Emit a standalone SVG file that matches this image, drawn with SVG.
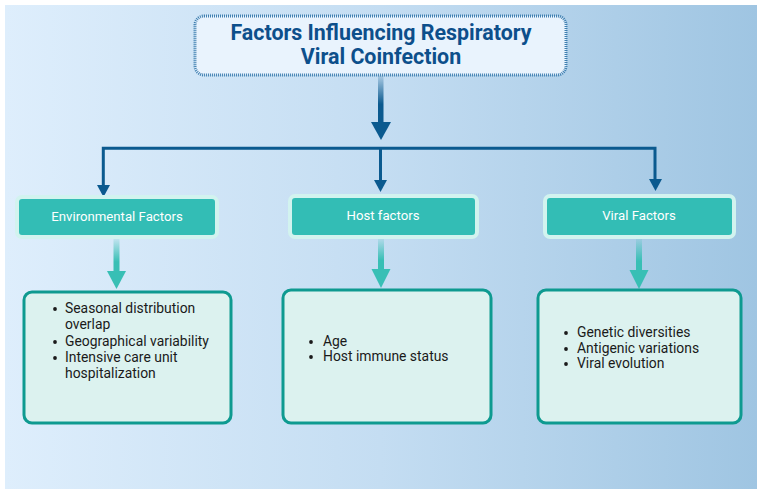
<svg xmlns="http://www.w3.org/2000/svg" width="761" height="495" viewBox="0 0 761 495">
<defs>
<linearGradient id="bg" x1="0" y1="0" x2="1" y2="0">
<stop offset="0" stop-color="#deeefc"/>
<stop offset="0.5" stop-color="#c4ddf2"/>
<stop offset="1" stop-color="#9fc5e2"/>
</linearGradient>
<linearGradient id="shaftBlue" x1="0" y1="0" x2="0" y2="1">
<stop offset="0" stop-color="#0b5a8f" stop-opacity="0.15"/>
<stop offset="0.6" stop-color="#0b5a8f" stop-opacity="1"/>
</linearGradient>
<linearGradient id="shaftTeal" x1="0" y1="0" x2="0" y2="1">
<stop offset="0" stop-color="#38bfb5" stop-opacity="0.1"/>
<stop offset="0.7" stop-color="#38bfb5" stop-opacity="1"/>
</linearGradient>
</defs>
<style>
.head{fill:#0d4f8b;font-family:Roboto,"Liberation Sans",sans-serif;font-weight:bold;font-size:21.4px;text-anchor:middle}
.cat rect{fill:#33bdb5;stroke:#d2f3ef;stroke-width:4}
.cat text{fill:#ffffff;font-family:Roboto,"Liberation Sans",sans-serif;font-size:13.2px;text-anchor:middle}
.box rect{fill:#dcf2ef;stroke:#0e9a90;stroke-width:3}
.box text{fill:#1a1a1a;font-family:Roboto,"Liberation Sans",sans-serif;font-size:13.9px}
.box circle{fill:#1a1a1a}
.conn{fill:none;stroke:#0b5a8f;stroke-width:3}
.tipB{fill:#0b5a8f}
.tipT{fill:#38bfb5}
</style>
<rect x="5" y="5" width="752" height="484" fill="url(#bg)"/>

<g id="title">
<rect x="195" y="16" width="371" height="59" rx="9" fill="#e9f3fd" stroke="#3f7fb0" stroke-width="3" stroke-dasharray="1 1"/>
<text class="head" x="381" y="40">Factors Influencing Respiratory</text>
<text class="head" x="381" y="64">Viral Coinfection</text>
</g>

<g id="connectors">
<rect x="378" y="76" width="5.5" height="47" fill="url(#shaftBlue)"/>
<polygon class="tipB" points="371,122 391,122 381,140"/>
<polyline class="conn" points="103.3,186 103.3,148.3 655,148.3 655,180"/>
<line class="conn" x1="380.5" y1="148" x2="380.5" y2="181"/>
<polygon class="tipB" points="97,185 110,185 103.5,197"/>
<polygon class="tipB" points="374,180 387,180 380.5,192"/>
<polygon class="tipB" points="649,179 662,179 655.5,191"/>
<rect x="113.5" y="238" width="6" height="34" fill="url(#shaftTeal)"/>
<polygon class="tipT" points="107,271 126,271 116.5,289"/>
<rect x="378" y="238" width="6" height="32" fill="url(#shaftTeal)"/>
<polygon class="tipT" points="371.5,269 390.5,269 381,288"/>
<rect x="636" y="238" width="6" height="33" fill="url(#shaftTeal)"/>
<polygon class="tipT" points="629.5,270 648.5,270 639,289"/>
</g>

<g id="env" class="cat">
<rect x="17" y="197" width="200" height="40" rx="5"/>
<text x="117" y="221">Environmental Factors</text>
</g>
<g id="host" class="cat">
<rect x="290" y="196" width="187" height="41" rx="5"/>
<text x="383" y="220">Host factors</text>
</g>
<g id="viral" class="cat">
<rect x="545" y="196" width="189" height="41" rx="5"/>
<text x="639" y="220">Viral Factors</text>
</g>

<g id="envList" class="box">
<rect x="24" y="292" width="207" height="131" rx="8"/>
<circle cx="55" cy="309" r="1.9"/>
<text x="65" y="313">Seasonal distribution</text>
<text x="65" y="329">overlap</text>
<circle cx="55" cy="342" r="1.9"/>
<text x="65" y="346">Geographical variability</text>
<circle cx="55" cy="358" r="1.9"/>
<text x="65" y="362">Intensive care unit</text>
<text x="65" y="378">hospitalization</text>
</g>

<g id="hostList" class="box">
<rect x="283" y="290" width="208" height="133" rx="8"/>
<circle cx="311" cy="342" r="1.9"/>
<text x="323" y="346">Age</text>
<circle cx="311" cy="357" r="1.9"/>
<text x="323" y="361">Host immune status</text>
</g>

<g id="viralList" class="box">
<rect x="538" y="290" width="203" height="133" rx="8"/>
<circle cx="566" cy="333" r="1.9"/>
<text x="577" y="337">Genetic diversities</text>
<circle cx="566" cy="349" r="1.9"/>
<text x="577" y="353">Antigenic variations</text>
<circle cx="566" cy="364" r="1.9"/>
<text x="577" y="368">Viral evolution</text>
</g>
</svg>
